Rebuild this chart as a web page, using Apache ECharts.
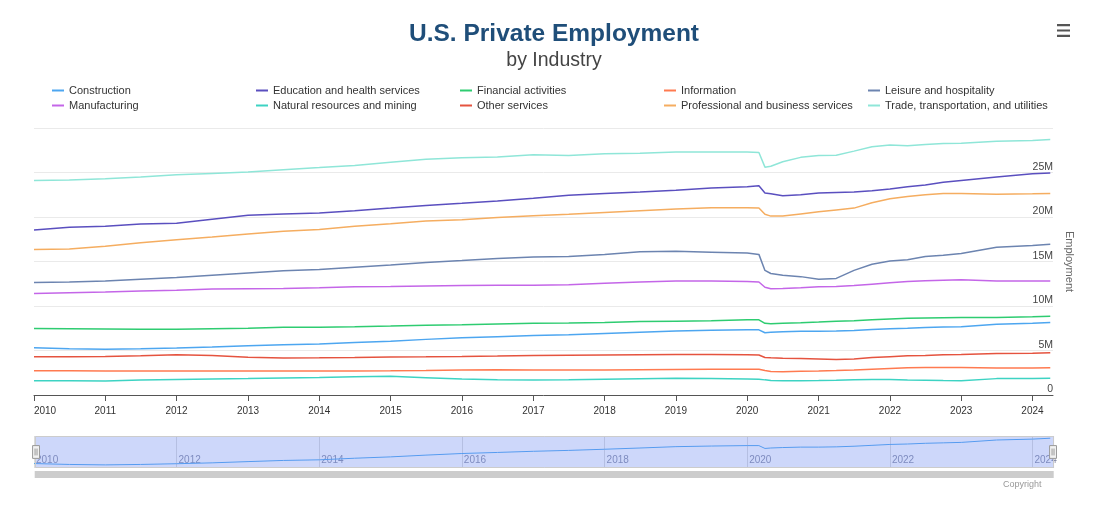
<!DOCTYPE html>
<html>
<head>
<meta charset="utf-8">
<script src="https://cdn.jsdelivr.net/npm/echarts@6/dist/echarts.min.js"></script>
<style>
html,body{margin:0;padding:0;background:#fff;}
#chart{width:1101px;height:507px;}
</style>
</head>
<body>
<div id="chart"></div>
<script>
// Sample dates (monthly points, denser around 2020)
const dates = ['2010-01','2010-07','2011-01','2011-07','2012-01','2012-07','2013-01','2013-07','2014-01','2014-07',
  '2015-01','2015-07','2016-01','2016-07','2017-01','2017-07','2018-01','2018-07','2019-01','2019-07',
  '2020-01','2020-03','2020-04','2020-05','2020-07','2020-10','2021-01','2021-04','2021-07','2021-10',
  '2022-01','2022-04','2022-07','2022-10','2023-01','2023-07','2024-01','2024-04'];

const seriesNames = ['Construction','Education and health services','Financial activities','Information',
  'Leisure and hospitality','Manufacturing','Natural resources and mining','Other services',
  'Professional and business services','Trade, transportation, and utilities'];

const seriesColors = ['#4da6f0','#5a4fbf','#2ecc71','#ff7a50','#6c84b0','#c466e8','#3dd3c3','#e5533f','#f5ad60','#8fe6d8'];

// values in millions of employees
const construction = [5.3,5.2,5.15,5.2,5.28,5.38,5.52,5.65,5.72,5.9,6.05,6.25,6.43,6.55,6.68,6.78,6.91,7.05,7.2,7.27,
  7.32,7.32,7.0,7.05,7.1,7.15,7.15,7.18,7.25,7.35,7.45,7.5,7.58,7.63,7.68,7.95,8.05,8.15];
const education = [18.55,18.85,18.95,19.2,19.3,19.75,20.2,20.35,20.45,20.7,21.0,21.3,21.55,21.8,22.1,22.45,22.65,22.8,23.0,23.25,
  23.4,23.5,22.7,22.6,22.4,22.5,22.7,22.75,22.8,22.95,23.15,23.4,23.6,23.9,24.1,24.5,24.85,24.95];
const financial = [7.47,7.45,7.42,7.4,7.4,7.45,7.5,7.6,7.62,7.66,7.75,7.85,7.9,7.98,8.05,8.08,8.15,8.25,8.3,8.35,
  8.45,8.45,8.05,8.0,8.05,8.12,8.2,8.3,8.35,8.45,8.55,8.62,8.65,8.68,8.7,8.7,8.8,8.86];
const information = [2.73,2.72,2.7,2.7,2.7,2.69,2.69,2.69,2.69,2.7,2.72,2.75,2.82,2.84,2.8,2.8,2.82,2.84,2.86,2.88,
  2.9,2.9,2.75,2.65,2.62,2.68,2.7,2.75,2.82,2.9,2.98,3.05,3.08,3.1,3.1,3.04,3.04,3.06];
const leisure = [12.63,12.7,12.8,13.0,13.2,13.45,13.7,13.95,14.1,14.35,14.6,14.9,15.1,15.35,15.5,15.55,15.8,16.1,16.15,16.05,
  15.95,15.8,14.0,13.65,13.45,13.3,13.0,13.1,14.0,14.7,15.05,15.2,15.55,15.7,15.9,16.6,16.8,16.95];
const manufacturing = [11.4,11.5,11.58,11.68,11.77,11.9,11.95,11.97,12.05,12.15,12.2,12.25,12.3,12.33,12.33,12.4,12.55,12.7,12.8,12.8,
  12.75,12.7,12.1,11.95,11.97,12.05,12.15,12.2,12.3,12.45,12.6,12.75,12.85,12.9,12.95,12.8,12.8,12.8];
const naturalRes = [1.6,1.6,1.58,1.68,1.75,1.8,1.85,1.92,1.97,2.05,2.1,1.95,1.8,1.72,1.68,1.72,1.78,1.83,1.87,1.85,
  1.8,1.78,1.7,1.63,1.6,1.6,1.62,1.66,1.72,1.74,1.74,1.68,1.65,1.62,1.6,1.84,1.86,1.87];
const otherServices = [4.3,4.3,4.33,4.4,4.52,4.45,4.25,4.17,4.18,4.22,4.28,4.3,4.33,4.38,4.45,4.48,4.5,4.52,4.55,4.55,
  4.52,4.5,4.22,4.18,4.12,4.1,4.05,4.0,4.05,4.2,4.3,4.4,4.45,4.52,4.56,4.65,4.7,4.75];
const professional = [16.35,16.4,16.7,17.1,17.45,17.75,18.1,18.4,18.6,18.95,19.25,19.55,19.7,19.95,20.15,20.3,20.5,20.7,20.9,21.05,
  21.05,21.0,20.3,20.1,20.1,20.35,20.6,20.8,21.0,21.6,22.05,22.3,22.5,22.65,22.65,22.55,22.6,22.65];
const trade = [24.1,24.15,24.3,24.5,24.75,24.9,25.05,25.3,25.55,25.8,26.15,26.5,26.65,26.75,27.0,26.9,27.1,27.15,27.3,27.3,
  27.3,27.25,25.6,25.7,26.2,26.7,26.9,26.95,27.4,27.9,28.1,28.0,28.15,28.25,28.3,28.5,28.6,28.7];

const seriesValues = [construction, education, financial, information, leisure, manufacturing, naturalRes, otherServices, professional, trade];

const yTicks = [0,5,10,15,20,25,30];

const FONT = '"Liberation Sans", Arial, sans-serif';
const YEAR = 365 * 24 * 3600 * 1000;
const xMin = dates[0];
const xMax = '2024-04-15';
const xMinTime = echarts.time.parse(xMin).getTime();

const pairs = v => dates.map((d, i) => [d, v[i]]);

const series = seriesNames.map((name, i) => ({
  name: name,
  type: 'line',
  xAxisIndex: 0, yAxisIndex: 0,
  data: pairs(seriesValues[i]),
  showSymbol: false,
  symbol: 'none',
  color: seriesColors[i],
  lineStyle: {width: 1.5, color: seriesColors[i]},
  emphasis: {disabled: true}
}));

// navigator shadow series (Construction)
series.push({
  name: 'navigator',
  type: 'line',
  xAxisIndex: 1, yAxisIndex: 1,
  data: pairs(construction),
  showSymbol: false,
  symbol: 'none',
  silent: true,
  lineStyle: {width: 1, color: '#4da6f0'},
  emphasis: {disabled: true}
});

const yearLabel = (val) => {
  const y = new Date(val).getFullYear();
  return Math.abs(val - xMinTime) < 86400000 ? '{f|' + y + '}' : String(y);
};

const chart = echarts.init(document.getElementById('chart'), null, {renderer: 'canvas'});
chart.setOption({
  animation: false,
  textStyle: {fontFamily: FONT},
  title: {
    text: 'U.S. Private Employment',
    subtext: 'by Industry',
    left: 549, top: 17, textAlign: 'center', itemGap: 4,
    textStyle: {fontFamily: FONT, fontSize: 24.5, fontWeight: 'bold', color: '#1f4e79'},
    subtextStyle: {fontFamily: FONT, fontSize: 19.5, color: '#444444'}
  },
  toolbox: {
    right: 16, top: 9, itemSize: 13,
    feature: {
      myMenu: {
        show: true, title: ' ',
        icon: 'path://M0,0H12V2H0Z M0,5H12V7H0Z M0,10H12V12H0Z',
        onclick: function () {}
      }
    },
    iconStyle: {color: '#555555', borderColor: '#555555', borderWidth: 0}
  },
  legend: {
    data: seriesNames,
    left: 52, top: 83, width: 1030, padding: 0,
    orient: 'horizontal',
    icon: 'rect', itemWidth: 12, itemHeight: 2, itemGap: 0,
    textStyle: {fontFamily: FONT, fontSize: 11, color: '#333333', width: 187, lineHeight: 15}
  },
  grid: [
    {left: 34, right: 48, top: 128, bottom: 112, containLabel: false},
    {left: 34, right: 48, top: 436, height: 32, containLabel: false}
  ],
  xAxis: [
    {
      type: 'time', gridIndex: 0, min: xMin, max: xMax,
      minInterval: YEAR, maxInterval: YEAR * 1.01,
      axisLine: {show: true, lineStyle: {color: '#555555', width: 1}},
      axisTick: {show: true, length: 6, lineStyle: {color: '#555555'}},
      axisLabel: {
        formatter: yearLabel, fontSize: 10, color: '#333333', margin: 11, hideOverlap: false, fontFamily: FONT,
        rich: {f: {padding: [0, 0, 0, 22], fontSize: 10, color: '#333333', fontFamily: FONT}}
      },
      splitLine: {show: false}
    },
    {
      type: 'time', gridIndex: 1, min: xMin, max: xMax,
      minInterval: YEAR * 2, maxInterval: YEAR * 2.02,
      axisLine: {show: false}, axisTick: {show: false},
      axisLabel: {inside: true, formatter: '{yyyy}', fontSize: 10, color: '#8a8fa8', margin: 3, align: 'left', padding: [0, 0, 0, 2], fontFamily: FONT},
      splitLine: {show: true, lineStyle: {color: '#dcdcdc', width: 1}}
    }
  ],
  yAxis: [
    {
      type: 'value', gridIndex: 0, position: 'right', min: yTicks[0], max: yTicks[yTicks.length - 1], interval: 5,
      name: 'Employment', nameLocation: 'middle', nameRotate: -90, nameGap: -4,
      nameTextStyle: {fontFamily: FONT, fontSize: 11, color: '#666666'},
      axisLine: {show: false}, axisTick: {show: false},
      axisLabel: {
        inside: true, margin: 0, verticalAlign: 'bottom', fontSize: 10.5, color: '#444444', fontFamily: FONT,
        showMaxLabel: false,
        formatter: v => v === 0 ? '0' : v + 'M'
      },
      splitLine: {show: true, lineStyle: {color: '#eaeaea', width: 1}}
    },
    {
      type: 'value', gridIndex: 1, min: 4.8, max: 8.4, show: false,
      splitLine: {show: false}
    }
  ],
  dataZoom: [{
    type: 'slider', xAxisIndex: 0, filterMode: 'none',
    left: 34, right: 48, top: 436, height: 32,
    start: 0, end: 100,
    showDataShadow: false, showDetail: false, brushSelect: false,
    backgroundColor: 'rgba(0,0,0,0)', borderColor: '#cccccc',
    fillerColor: 'rgba(102,133,240,0.33)',
    handleIcon: 'path://M0,0H7V13H0Z M2.5,3V10 M4.5,3V10',
    handleSize: '40%',
    handleStyle: {color: '#f2f2f2', borderColor: '#999999', borderWidth: 1},
    moveHandleSize: 0
  }, {
    type: 'slider', xAxisIndex: 1, filterMode: 'none',
    left: 34, right: 48, top: 471, height: 7,
    start: 0, end: 100,
    showDataShadow: false, showDetail: false, brushSelect: false,
    backgroundColor: 'rgba(0,0,0,0)', borderColor: 'rgba(0,0,0,0)',
    fillerColor: '#cccccc',
    handleSize: 0,
    handleStyle: {opacity: 0},
    moveHandleSize: 0
  }],
  graphic: [{
    type: 'text', left: 1003, top: 480,
    style: {text: 'Copyright', fontSize: 9, fill: '#999999', fontFamily: FONT}
  }],
  series: series
});
</script>
</body>
</html>
